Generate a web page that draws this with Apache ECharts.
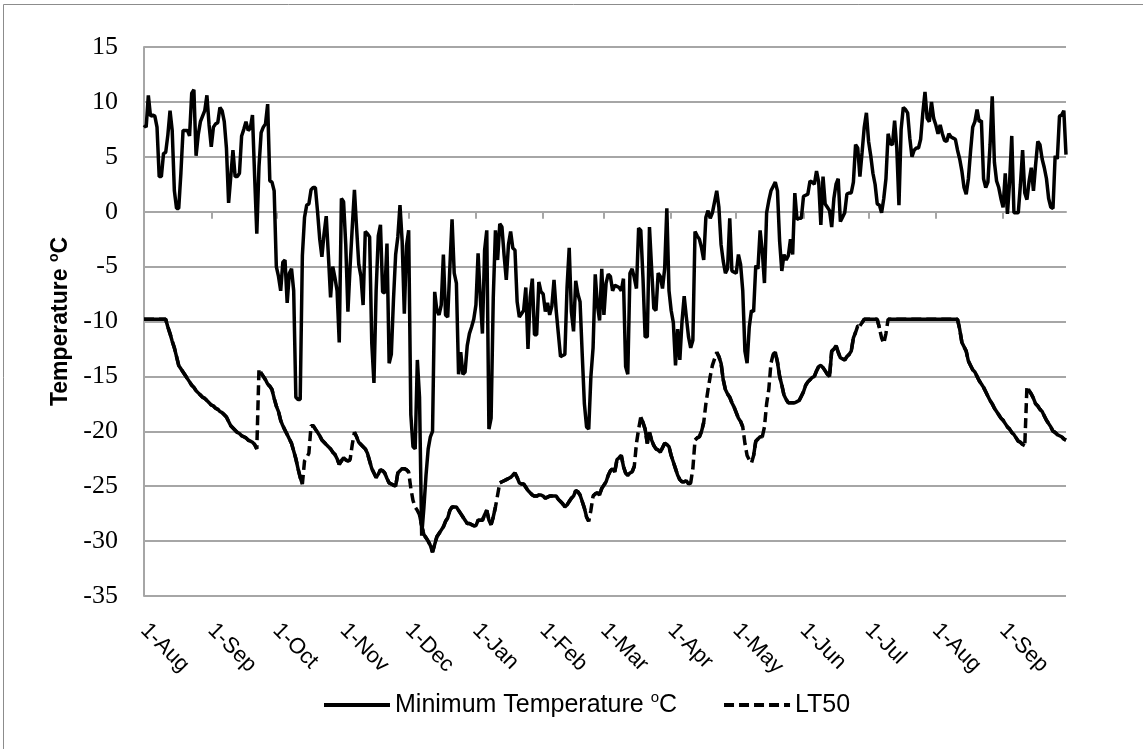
<!DOCTYPE html>
<html>
<head>
<meta charset="utf-8">
<script src="https://cdn.jsdelivr.net/npm/echarts@6/dist/echarts.min.js"></script>
<style>
html, body { margin: 0; padding: 0; background: #fff; }
#chart { width: 1143px; height: 749px; }
</style>
</head>
<body>
<div id="chart"></div>
<script>
// months shown on the axis (Aug .. Sep of the following year)
var months = ['Aug', 'Sep', 'Oct', 'Nov', 'Dec', 'Jan', 'Feb', 'Mar', 'Apr', 'May', 'Jun', 'Jul', 'Aug', 'Sep'];
var monthDays = [31, 30, 31, 30, 31, 31, 28, 31, 30, 31, 30, 31, 31, 30];

// daily minimum temperature (one line per month)
var minTemp = [
    7.9, 7.7, 10.6, 8.7, 8.8, 8.7, 7.7, 3.2, 3.2, 5.3, 5.4, 7.0, 9.2, 7.4, 1.9, 0.3, 0.3, 3.5, 7.4, 7.4, 7.4, 6.9, 10.8, 11.1, 5.1, 7.0, 8.2, 8.7, 9.2, 10.6, 7.9,
    5.9, 7.7, 8.0, 8.1, 9.5, 9.2, 8.2, 5.8, 0.8, 3.2, 5.6, 3.2, 3.2, 3.5, 6.9, 7.5, 8.2, 7.4, 7.6, 8.8, 3.2, -2.0, 4.1, 7.2, 7.7, 8.0, 9.8, 2.8, 2.7, 1.9,
    -5.0, -5.9, -7.2, -4.6, -4.4, -8.3, -5.6, -5.2, -7.2, -16.9, -17.1, -17.1, -4.0, -0.5, 0.6, 0.7, 2.0, 2.2, 2.2, 0.0, -2.5, -4.1, -2.0, -0.4, -4.0, -7.8, -5.0, -6.0, -7.2, -11.9, 1.2,
    0.9, -3.0, -9.1, -5.0, -1.4, 2.0, -1.5, -4.8, -5.9, -8.5, -1.8, -2.0, -2.3, -12.0, -15.6, -7.2, -2.2, -1.2, -7.3, -7.4, -2.9, -13.8, -13.0, -8.0, -3.9, -2.3, 0.6, -2.7, -9.3, -3.1,
    -1.7, -18.5, -21.4, -21.6, -13.5, -16.9, -29.5, -27.0, -24.0, -21.6, -20.5, -20.0, -7.3, -9.0, -9.4, -8.5, -3.9, -9.4, -9.6, -5.0, -0.7, -5.6, -6.5, -14.8, -12.8, -14.8, -14.6, -12.2, -11.1, -10.5, -9.8,
    -8.5, -3.8, -7.8, -11.1, -3.5, -1.7, -19.8, -18.8, -7.8, -1.7, -4.4, -1.1, -1.4, -4.0, -6.2, -3.0, -1.8, -3.3, -3.5, -8.2, -9.6, -9.3, -9.0, -6.9, -12.5, -7.8, -6.1, -11.2, -11.2, -6.4, -7.3,
    -7.5, -9.1, -8.3, -9.4, -8.6, -6.2, -9.0, -11.1, -13.2, -13.1, -13.0, -6.9, -3.3, -9.1, -10.9, -6.3, -7.5, -8.2, -13.0, -17.5, -19.6, -19.8, -15.0, -12.4, -5.7, -8.5, -9.9, -5.2,
    -9.4, -6.5, -5.7, -5.9, -7.2, -6.7, -6.8, -6.9, -7.2, -6.1, -14.1, -14.8, -5.6, -5.2, -6.0, -7.0, -1.5, -1.7, -6.0, -11.4, -11.4, -1.4, -5.2, -8.8, -9.0, -5.6, -5.9, -7.0, -5.2, 0.3, -7.2,
    -9.0, -10.1, -14.0, -10.7, -13.5, -10.0, -7.7, -9.6, -11.4, -12.4, -11.7, -1.8, -2.2, -2.5, -3.3, -4.4, -0.5, 0.1, -0.6, -0.1, 0.9, 1.9, 0.4, -3.0, -4.5, -5.6, -5.2, -0.6, -5.4, -5.5,
    -5.6, -3.9, -4.8, -7.2, -12.7, -13.8, -10.5, -9.0, -9.1, -4.9, -5.2, -1.7, -3.6, -6.5, -0.1, 1.0, 1.9, 2.3, 2.7, 1.9, -2.7, -5.4, -3.9, -4.4, -4.0, -2.5, -3.9, 1.7, -0.7, -0.6, -0.6,
    1.4, 1.5, 1.6, 2.8, 2.7, 2.5, 3.7, 2.7, -1.2, 3.2, 0.7, 0.4, 0.1, -1.4, 1.2, 2.5, 3.0, -0.9, -0.5, -0.1, 1.6, 1.7, 1.7, 2.7, 6.1, 5.8, 3.2, 5.4, 7.7, 9.0,
    6.4, 5.1, 3.5, 2.5, 0.7, 0.6, -0.1, 1.2, 3.0, 7.1, 6.2, 6.1, 8.3, 5.8, 0.6, 7.5, 9.5, 9.3, 9.0, 6.7, 5.0, 5.6, 5.8, 5.8, 6.6, 9.0, 10.9, 8.5, 8.2, 10.0, 8.5,
    7.9, 7.1, 7.9, 7.1, 6.5, 6.4, 7.1, 6.8, 6.7, 6.6, 5.6, 4.8, 3.7, 2.2, 1.6, 3.0, 5.5, 7.7, 8.2, 9.3, 8.2, 8.3, 3.0, 2.2, 2.7, 6.1, 10.5, 4.5, 2.8, 2.2, 1.2,
    0.4, 3.5, -0.2, 2.7, 6.9, -0.1, -0.1, -0.1, 2.5, 5.6, 1.7, 1.1, 2.8, 4.0, 1.9, 4.3, 6.4, 6.1, 4.8, 4.0, 3.0, 1.2, 0.4, 0.3, 5.1, 4.8, 8.7, 8.8, 9.2, 5.2
];

// daily LT50 (one line per month)
var lt50 = [
    -9.8, -9.8, -9.8, -9.8, -9.8, -9.8, -9.8, -9.8, -9.8, -9.8, -9.8, -10.5, -11.1, -11.8, -12.4, -13.2, -14.0, -14.3, -14.6, -14.9, -15.2, -15.5, -15.8, -16.0, -16.3, -16.5, -16.7, -16.9, -17.0, -17.2, -17.4,
    -17.6, -17.7, -17.9, -18.0, -18.2, -18.3, -18.5, -18.7, -19.1, -19.5, -19.7, -19.9, -20.1, -20.2, -20.4, -20.5, -20.6, -20.8, -20.9, -21.0, -21.2, -21.6, -14.3, -14.7, -15.0, -15.3, -15.7, -15.9, -16.2, -17.0,
    -17.7, -18.2, -19.0, -19.5, -19.9, -20.3, -20.7, -21.1, -21.8, -22.5, -23.4, -24.2, -24.8, -22.7, -22.4, -22.0, -19.5, -19.5, -19.8, -20.1, -20.4, -20.8, -21.0, -21.2, -21.4, -21.6, -21.9, -22.1, -22.5, -23.0, -22.7,
    -22.4, -22.6, -22.7, -22.6, -21.2, -20.1, -20.5, -21.0, -21.2, -21.4, -21.6, -22.0, -22.7, -23.4, -23.8, -24.2, -23.9, -23.5, -23.6, -23.8, -24.3, -24.7, -24.8, -24.9, -25.0, -23.8, -23.6, -23.4, -23.4, -23.5,
    -23.7, -25.2, -26.3, -26.9, -27.2, -27.6, -28.6, -29.4, -29.7, -30.0, -30.4, -31.0, -30.3, -29.6, -29.3, -29.0, -28.7, -28.2, -27.9, -27.2, -26.9, -26.9, -26.9, -27.2, -27.5, -27.8, -28.1, -28.4, -28.4, -28.5, -28.6,
    -28.6, -28.1, -28.1, -28.1, -27.6, -27.2, -28.1, -28.5, -27.8, -26.9, -25.8, -24.7, -24.6, -24.5, -24.4, -24.3, -24.2, -24.0, -23.8, -24.2, -24.7, -24.8, -24.8, -25.1, -25.4, -25.6, -25.8, -25.9, -25.9, -25.8, -25.8,
    -25.9, -26.1, -26.0, -25.9, -25.9, -25.9, -25.9, -26.2, -26.4, -26.6, -26.9, -26.7, -26.4, -26.1, -25.9, -25.4, -25.5, -25.8, -26.4, -27.0, -27.8, -28.2, -27.2, -25.9, -25.7, -25.6, -25.8, -25.2,
    -24.9, -24.6, -24.0, -23.6, -23.4, -23.7, -22.6, -22.4, -22.2, -23.2, -23.8, -24.0, -23.8, -23.7, -23.2, -21.1, -19.8, -18.7, -19.2, -19.8, -21.1, -20.1, -20.8, -21.3, -21.6, -21.7, -21.9, -21.5, -21.1, -21.2, -21.4,
    -22.2, -22.8, -23.4, -24.0, -24.4, -24.6, -24.6, -24.5, -24.8, -24.7, -23.4, -20.8, -20.6, -20.5, -20.0, -19.2, -17.5, -16.2, -15.0, -14.0, -13.4, -12.8, -13.2, -13.8, -15.3, -16.2, -16.6, -16.9, -17.4, -17.8,
    -18.3, -18.8, -19.1, -19.6, -21.1, -22.2, -22.6, -22.9, -22.2, -20.9, -20.7, -20.5, -20.5, -19.6, -17.5, -16.2, -13.8, -13.0, -12.8, -13.7, -15.0, -15.8, -16.7, -17.1, -17.4, -17.4, -17.4, -17.4, -17.3, -17.2, -16.8,
    -16.4, -15.8, -15.5, -15.3, -15.1, -15.0, -14.5, -14.1, -14.0, -14.2, -14.5, -14.8, -15.0, -12.7, -12.5, -12.2, -12.8, -13.3, -13.4, -13.5, -13.2, -13.0, -12.7, -11.5, -11.0, -10.4, -10.4, -10.1, -9.8, -9.8,
    -9.8, -9.8, -9.8, -9.8, -9.8, -10.6, -11.5, -12.0, -11.1, -9.8, -9.8, -9.8, -9.8, -9.8, -9.8, -9.8, -9.8, -9.8, -9.8, -9.8, -9.8, -9.8, -9.8, -9.8, -9.8, -9.8, -9.8, -9.8, -9.8, -9.8, -9.8,
    -9.8, -9.8, -9.8, -9.8, -9.8, -9.8, -9.8, -9.8, -9.8, -9.8, -9.8, -10.7, -11.9, -12.3, -12.7, -13.6, -14.0, -14.4, -14.6, -15.0, -15.4, -15.7, -16.0, -16.4, -16.8, -17.2, -17.5, -17.9, -18.2, -18.5, -18.8,
    -19.0, -19.3, -19.6, -19.8, -20.1, -20.3, -20.6, -20.9, -21.0, -21.2, -21.3, -15.9, -16.3, -16.6, -17.0, -17.5, -17.7, -18.0, -18.2, -18.6, -19.0, -19.3, -19.6, -20.0, -20.1, -20.3, -20.4, -20.5, -20.7, -20.8
];

// day-index spans where the LT50 line is drawn dashed
var dashedSpans = [[52, 54], [73, 77], [95, 97], [122, 127], [162, 164], [205, 207], [226, 229], [252, 254],
    [258, 264], [276, 281], [285, 290], [328, 330], [339, 343], [406, 408]];

var days = [];
months.forEach(function (m, k) {
    for (var d = 1; d <= monthDays[k]; d++) days.push(d + '-' + m);
});

// solid part of LT50 (gaps where the dashed line shows through)
var lt50Solid = lt50.map(function (v, i) {
    for (var k = 0; k < dashedSpans.length; k++) {
        if (i > dashedSpans[k][0] && i < dashedSpans[k][1]) return null;
    }
    return v;
});

function isMonthStart(i, v) {
    return v.indexOf('1-') === 0;
}

var gray = '#a6a6a6';
var sans = 'Liberation Sans';

var chart = echarts.init(document.getElementById('chart'));
var option = {
    animation: false,
    backgroundColor: '#fff',
    graphic: [{
        type: 'rect',
        silent: true,
        shape: { x: 3.5, y: 4.5, width: 1200, height: 800 },
        style: { fill: 'none', stroke: '#8c8c8c', lineWidth: 1 }
    }],
    grid: { left: 144, right: 77, top: 47, bottom: 153 },
    legend: {
        data: ['Minimum Temperature oC', 'LT50'],
        left: 317,
        top: 685,
        itemWidth: 66,
        itemHeight: 14,
        itemGap: 45,
        itemStyle: { opacity: 0 },
        lineStyle: { width: 4 },
        formatter: function (name) {
            return name === 'LT50' ? '{t|LT50}' : '{t|Minimum Temperature }{s|o}{t|C}';
        },
        textStyle: {
            rich: {
                t: { fontFamily: sans, fontSize: 25, color: '#000', lineHeight: 30 },
                s: { fontFamily: sans, fontSize: 15, color: '#000', verticalAlign: 'top', lineHeight: 16 }
            }
        }
    },
    xAxis: {
        type: 'category',
        data: days,
        boundaryGap: false,
        axisLine: { lineStyle: { color: gray, width: 2 } },
        axisTick: { interval: isMonthStart, length: 7, lineStyle: { color: gray, width: 2 } },
        axisLabel: {
            interval: isMonthStart,
            rotate: -45,
            margin: 31,
            fontFamily: sans,
            fontSize: 22,
            color: '#000'
        },
        splitLine: { show: false }
    },
    yAxis: {
        type: 'value',
        min: -35,
        max: 15,
        interval: 5,
        name: '{b|Temperature }{s|o}{b|C}',
        nameLocation: 'middle',
        nameGap: 69,
        nameTextStyle: {
            rich: {
                b: { fontFamily: sans, fontSize: 23, fontWeight: 'bold', color: '#000', lineHeight: 28 },
                s: { fontFamily: sans, fontSize: 14, fontWeight: 'bold', color: '#000', verticalAlign: 'top', lineHeight: 14 }
            }
        },
        axisLine: { show: true, lineStyle: { color: gray, width: 2 } },
        axisTick: { show: false },
        axisLabel: { fontFamily: 'Liberation Serif', fontSize: 26, color: '#000', margin: 26 },
        splitLine: { lineStyle: { color: gray, width: 2 } }
    },
    series: [{
        name: 'Minimum Temperature oC',
        type: 'line',
        data: minTemp,
        symbol: 'none',
        z: 4,
        itemStyle: { color: '#000' },
        lineStyle: { color: '#000', width: 3.5 }
    }, {
        name: 'LT50',
        type: 'line',
        data: lt50,
        symbol: 'none',
        z: 2,
        itemStyle: { color: '#000' },
        lineStyle: { color: '#000', width: 3.5, type: [10, 5] }
    }, {
        name: 'LT50 solid',
        type: 'line',
        data: lt50Solid,
        symbol: 'none',
        z: 3,
        connectNulls: false,
        itemStyle: { color: '#000' },
        lineStyle: { color: '#000', width: 3.5 }
    }]
};
chart.setOption(option);
</script>
</body>
</html>
